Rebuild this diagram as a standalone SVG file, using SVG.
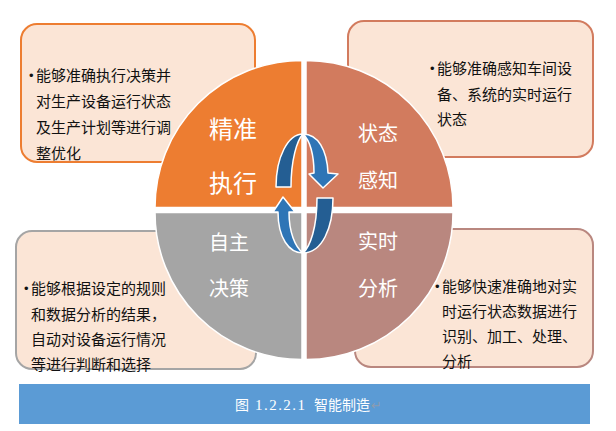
<svg xmlns="http://www.w3.org/2000/svg" width="616" height="431" viewBox="0 0 616 431">
<style>
.box{fill:#FBE5D6;stroke-width:2}
.bt{font-family:"Noto Sans CJK SC","Liberation Sans",sans-serif;font-size:15px;fill:#111}
.bul{font-family:"Liberation Sans",sans-serif;font-size:13px;fill:#111}
.q{stroke:#fff;stroke-width:1.5;stroke-linejoin:round}
.ql{font-family:"Noto Sans CJK SC","Liberation Sans",sans-serif;fill:#fff}
.ad{fill:#245E93;stroke:#fff;stroke-width:1.5;stroke-linejoin:round}
.al{fill:#2E75B6;stroke:#fff;stroke-width:1.5;stroke-linejoin:round}
.cap{font-family:"Noto Sans CJK SC","Liberation Sans",sans-serif;font-size:14px;fill:#fff}
</style>
<rect width="616" height="431" fill="#fff"/>

<g id="box-tl">
<rect class="box" x="21" y="24" width="234" height="138" rx="16" stroke="#ED7D31"/>
<text class="bul" x="29" y="80">•</text>
<text class="bt"><tspan x="36" y="81">能够准确执行决策并</tspan><tspan x="36" y="107">对生产设备运行状态</tspan><tspan x="36" y="133">及生产计划等进行调</tspan><tspan x="36" y="159">整优化</tspan></text>
</g>
<g id="box-tr">
<rect class="box" x="348" y="21" width="245" height="136" rx="16" stroke="#D27B5E"/>
<text class="bul" x="430" y="73">•</text>
<text class="bt"><tspan x="437" y="74">能够准确感知车间设</tspan><tspan x="437" y="99.5">备、系统的实时运行</tspan><tspan x="437" y="125">状态</tspan></text>
</g>
<g id="box-bl">
<rect class="box" x="16" y="231" width="240" height="138" rx="16" stroke="#A5A5A5"/>
<text class="bul" x="24" y="293">•</text>
<text class="bt"><tspan x="31" y="294">能够根据设定的规则</tspan><tspan x="31" y="319.5">和数据分析的结果，</tspan><tspan x="31" y="345">自动对设备运行情况</tspan><tspan x="31" y="370">等进行判断和选择</tspan></text>
</g>
<g id="box-br">
<rect class="box" x="355" y="229" width="238" height="138" rx="16" stroke="#B9877F"/>
<text class="bul" x="435" y="291">•</text>
<text class="bt"><tspan x="442" y="292">能够快速准确地对实</tspan><tspan x="442" y="317">时运行状态数据进行</tspan><tspan x="442" y="342">识别、加工、处理、</tspan><tspan x="442" y="367">分析</tspan></text>
</g>

<g id="q-tl">
<path class="q" fill="#ED7D31" d="M302,207.5 L155,207.5 A147,147 0 0 1 302,60.5 Z"/>
<text class="ql" font-size="24"><tspan x="209" y="138">精准</tspan><tspan x="209" y="192">执行</tspan></text>
</g>
<g id="q-tr">
<path class="q" fill="#D27B5E" d="M306,207.5 L306,60.5 A147,147 0 0 1 453,207.5 Z"/>
<text class="ql" font-size="20"><tspan x="358" y="141">状态</tspan><tspan x="358" y="188">感知</tspan></text>
</g>
<g id="q-bl">
<path class="q" fill="#A5A5A5" d="M302,212.5 L302,359.5 A147,147 0 0 1 155,212.5 Z"/>
<text class="ql" font-size="20"><tspan x="209" y="250">自主</tspan><tspan x="209" y="296">决策</tspan></text>
</g>
<g id="q-br">
<path class="q" fill="#B9877F" d="M306,212.5 L453,212.5 A147,147 0 0 1 306,359.5 Z"/>
<text class="ql" font-size="20"><tspan x="358" y="249">实时</tspan><tspan x="358" y="296">分析</tspan></text>
</g>

<g id="connectors">
<path class="ad" d="M276,187 C276,157 288,134 303,134 C297,140 291,160 291,187 Z"/>
<path class="al" d="M303,134 C318,134 327,150 328,173 L338,174 L323,188 L309,174 L314,173 C314,155 310,140 303,134 Z"/>
<path class="ad" d="M333,198 C333,228 322,253 303,253 C310,247 317,228 317,198 Z"/>
<path class="al" d="M303,253 C289,253 278,238 278,212 L273,212 L283,197 L295,212 L289,212 C289,232 295,247 303,253 Z"/>
</g>

<g id="caption">
<rect x="19" y="384" width="571" height="40" fill="#5B9BD5"/>
<text class="cap" x="235" y="410">图</text>
<text x="255" y="410" font-family="Liberation Serif,serif" font-size="15" fill="#fff" textLength="50" lengthAdjust="spacing">1.2.2.1</text>
<text class="cap" x="314" y="410">智能制造</text>
<text x="371" y="410" font-family="DejaVu Sans,sans-serif" font-size="13" fill="#8C9CB0">↵</text>
</g>
</svg>
